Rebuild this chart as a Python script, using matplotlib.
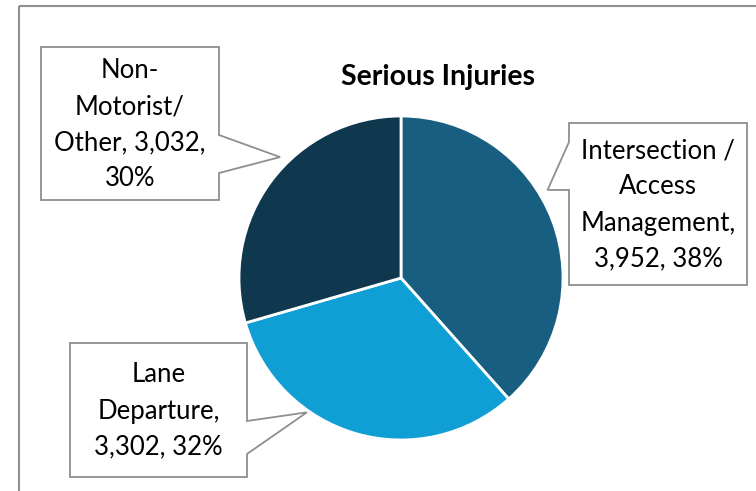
import numpy as np
import matplotlib.pyplot as plt
from matplotlib.patches import Polygon, Rectangle

plt.rcParams['font.family'] = ['Lato', 'DejaVu Sans']

categories = ["Intersection /\nAccess\nManagement", "Lane\nDeparture", "Non-\nMotorist/\nOther"]
values = [3952, 3302, 3032]
percents = [38, 32, 30]
colors = ["#175E80", "#109FD5", "#0F374E"]
title = "Serious Injuries"

label_texts = [
    "Intersection /\nAccess\nManagement,\n3,952, 38%",
    "Lane\nDeparture,\n3,302, 32%",
    "Non-\nMotorist/\nOther, 3,032,\n30%",
]

W, H = 756, 491
cx, cy, r = 401, 278, 162


def main() -> None:
    fig = plt.figure(figsize=(W / 100, H / 100), dpi=100)

    # overlay in pixel coords for frame + callouts
    ov = fig.add_axes([0, 0, 1, 1])
    ov.set_xlim(0, W)
    ov.set_ylim(H, 0)
    ov.axis("off")
    ov.add_patch(Rectangle((19, 6), 900, 700, fill=False, edgecolor="#8f8f8f", lw=1.5))

    ax = fig.add_axes([(cx - r) / W, (H - cy - r) / H, 2 * r / W, 2 * r / H])
    ax.pie(values, colors=colors, startangle=90, counterclock=False,
           wedgeprops=dict(edgecolor="white", linewidth=2))
    ax.set_xlim(-1, 1)
    ax.set_ylim(-1, 1)
    ax.set_aspect("equal")

    ov.text(438, 77, title, ha="center", va="center", fontsize=20.5, fontweight="bold")

    # callout boxes: (x0, y0, x1, y1), side of pointer, pointer base span, tip angle/dist
    boxes = [
        ((569, 123, 747, 285), "left", (142, 190), 31, 171),
        ((70, 343, 247, 477), "right", (421, 454), 235, 164),
        ((41, 47, 219, 200), "right", (135, 173), 135, 171),
    ]
    for txt, (b, side, (p0, p1), ang, dist) in zip(label_texts, boxes):
        x0, y0, x1, y1 = b
        tx = cx + dist * np.cos(np.radians(ang))
        ty = cy - dist * np.sin(np.radians(ang))
        if side == "left":
            pts = [(x0, y0), (x1, y0), (x1, y1), (x0, y1), (x0, p1), (tx, ty), (x0, p0)]
        else:
            pts = [(x0, y0), (x1, y0), (x1, p0), (tx, ty), (x1, p1), (x1, y1), (x0, y1)]
        ov.add_patch(Polygon(pts, closed=True, facecolor="white", edgecolor="#8f8f8f", lw=1.3))
        ov.text((x0 + x1) / 2, (y0 + y1) / 2 + 1, txt, ha="center", va="center",
                fontsize=18.5, linespacing=1.55)

    fig.savefig("out.png", dpi=100)


if __name__ == "__main__":
    main()
